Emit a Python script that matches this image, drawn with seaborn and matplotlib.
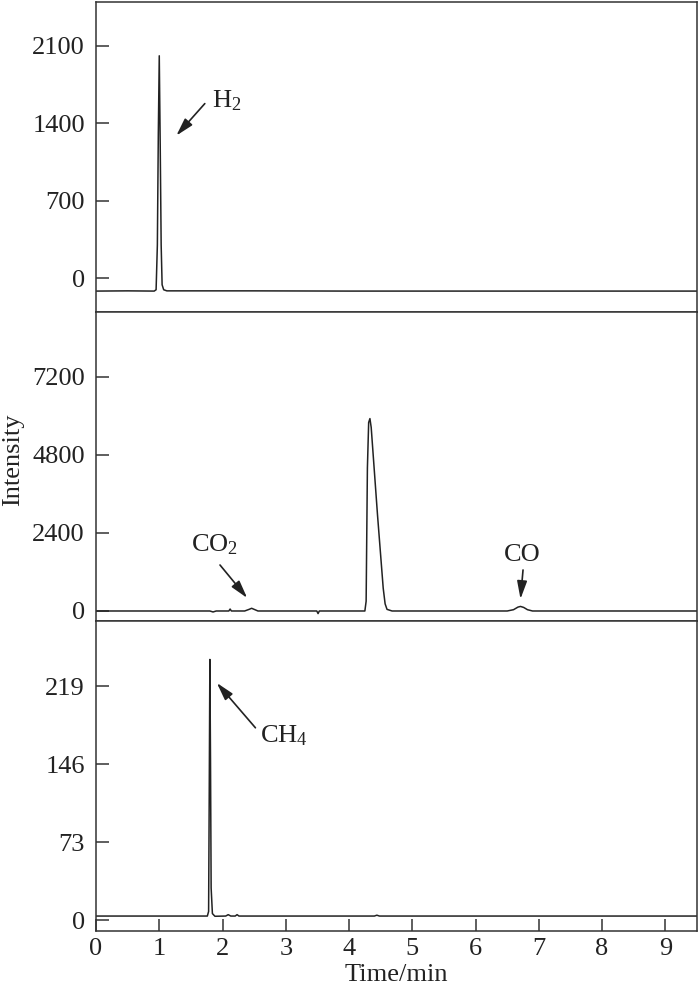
import numpy as np
import pandas as pd
import matplotlib
matplotlib.use("Agg")
import matplotlib.pyplot as plt
import seaborn as sns

# retention time (min) / intensity
t_h2 = [0, 0.5, 0.92, 0.95, 0.97, 0.985, 1.0, 1.015, 1.03, 1.045, 1.07, 1.12, 2.5, 4.0, 6.0, 9.5]
i_h2 = [-117, -115, -117, -105, 300, 1300, 2009, 1200, 300, -60, -105, -115, -115, -117, -117, -117]

t_mid = [0, 1.0, 1.8, 1.85, 1.9, 2.1, 2.12, 2.14, 2.35, 2.42, 2.46, 2.5, 2.56,
         3.49, 3.51, 3.53, 4.0, 4.25, 4.27, 4.29, 4.31, 4.33, 4.35, 4.40, 4.45,
         4.50, 4.54, 4.57, 4.60, 4.68, 5.5, 6.5, 6.6, 6.67, 6.71, 6.76, 6.82, 6.9,
         8.0, 9.5]
i_mid = [0, 0, 0, -30, 0, 0, 60, 0, 0, 50, 83, 50, 0,
         0, -80, 0, 0, 0, 300, 4400, 5800, 5920, 5650, 4300, 2950,
         1700, 700, 220, 50, 0, 0, 0, 40, 120, 140, 110, 40, 0,
         0, 0]

t_ch4 = [0, 1.0, 1.76, 1.78, 1.79, 1.80, 1.81, 1.82, 1.84, 1.88, 2.05, 2.09, 2.13,
         2.2, 2.23, 2.26, 3.0, 4.4, 4.44, 4.48, 9.5]
i_ch4 = [3.7, 3.7, 3.7, 8, 120, 244, 150, 30, 6, 3.5, 3.7, 5, 3.7,
         3.7, 5, 3.7, 3.7, 3.7, 4.5, 3.7, 3.7]

yticks_h2 = [0, 700, 1400, 2100]
yticks_mid = [0, 2400, 4800, 7200]
yticks_ch4 = [0, 73, 146, 219]
xticks = list(range(10))

sns.set_theme(style="ticks")
plt.rcParams['font.family'] = ['Liberation Serif', 'DejaVu Serif']
plt.rcParams['mathtext.fontset'] = 'custom'
plt.rcParams['mathtext.rm'] = 'Liberation Serif'
plt.rcParams['mathtext.it'] = 'Liberation Serif'
fs = 19

fig = plt.figure(figsize=(7, 9.89), dpi=100)
left, right = 96 / 700, 697 / 700
edges = [2, 312, 621, 931]
axes = []
for k in range(3):
    top = 1 - edges[k] / 989
    bot = 1 - edges[k + 1] / 989
    axes.append(fig.add_axes([left, bot, right - left, top - bot]))

panels = [(t_h2, i_h2, yticks_h2, (-306, 2495)),
          (t_mid, i_mid, yticks_mid, (-308, 9200)),
          (t_ch4, i_ch4, yticks_ch4, (-10.3, 280))]

for k, (ax, (t, y, yt, yl)) in enumerate(zip(axes, panels)):
    df = pd.DataFrame({"t": t, "y": y})
    sns.lineplot(data=df, x="t", y="y", ax=ax, color="#222222", lw=1.1,
                 sort=False, estimator=None)
    ax.set_xlim(0, 9.5)
    ax.set_ylim(*yl)
    ax.set_yticks(yt)
    ax.set_xticks(xticks)
    ax.set_xlabel("")
    ax.set_ylabel("")
    for s in ax.spines.values():
        s.set_linewidth(1.1)
        s.set_color("#333333")
    ax.tick_params(direction="in", length=9, width=1.1, color="#333333",
                   labelsize=fs, pad=8, labelcolor="#222222")
    ax.tick_params(axis="x", pad=5)
    if k < 2:
        ax.tick_params(axis="x", bottom=False, labelbottom=False)

ap = dict(arrowstyle="-|>,head_length=0.9,head_width=0.25", color="#222222",
          lw=1.2, shrinkA=0, shrinkB=0)

ax = axes[0]
ax.annotate("", xy=(1.27, 1288), xytext=(1.72, 1577), arrowprops=ap)
ax.text(1.84, 1604, "H$_2$", fontsize=fs, va="center", ha="left", color="#222222")

ax = axes[1]
ax.annotate("", xy=(2.39, 400), xytext=(1.96, 1415), arrowprops=ap)
ax.text(1.87, 2030, "CO$_2$", fontsize=fs, va="center", ha="center", color="#222222")
ax.annotate("", xy=(6.71, 370), xytext=(6.75, 1262), arrowprops=ap)
ax.text(6.74, 1723, "CO", fontsize=fs, va="center", ha="center", color="#222222")

ax = axes[2]
ax.annotate("", xy=(1.91, 222), xytext=(2.52, 180), arrowprops=ap)
ax.text(2.59, 173, "CH$_4$", fontsize=fs, va="center", ha="left", color="#222222")

fig.text(0.018, 1 - 460 / 989, "Intensity", rotation=90, fontsize=fs,
         va="center", ha="center", color="#222222")
fig.text((left + right) / 2, 1 - 981 / 989, "Time/min", fontsize=fs,
         va="baseline", ha="center", color="#222222")

plt.savefig("out.png", dpi=100)
